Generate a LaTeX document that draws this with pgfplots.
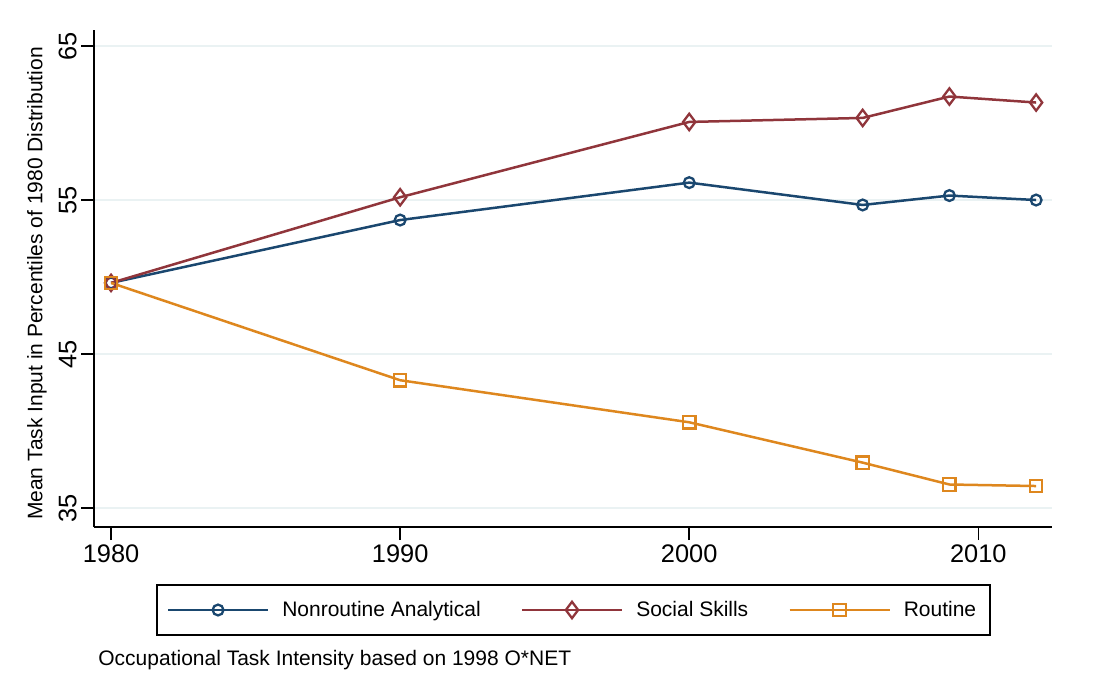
\documentclass[border=0pt]{standalone}
\usepackage{pgfplots}
\pgfplotsset{compat=1.18}
\usepackage{fontspec}
\setmainfont{Liberation Sans}
\definecolor{cnavy}{RGB}{26,71,111}
\definecolor{cmaroon}{RGB}{144,53,59}
\definecolor{corange}{RGB}{222,135,30}
\definecolor{cgrid}{RGB}{234,242,243}
\begin{document}
\begin{tikzpicture}
\path[use as bounding box] (-47pt,-84.5pt) rectangle (506pt,263.5pt);
\begin{axis}[
  scale only axis,
  width=479pt, height=248.5pt,
  xmin=1979.41, xmax=2012.55,
  ymin=33.77, ymax=66.04,
  axis x line*=bottom, axis y line*=left,
  axis line style={line width=1pt,-},
  xtick={1980,1990,2000,2010},
  ytick={35,45,55,65},
  xticklabels={1980,1990,2000,2010},
  yticklabels={35,45,55,65},
  tick align=outside, tick pos=left,
  major tick length=6.5pt,
  tick style={line width=0.8pt,black},
  ymajorgrids,
  major grid style={line width=0.8pt,cgrid},
  tick label style={font=\fontsize{12.7}{14}\selectfont},
  yticklabel style={rotate=90,anchor=south,inner sep=2pt},
  xticklabel style={anchor=north,inner sep=2pt},
  ylabel={Mean Task Input in Percentiles of 1980 Distribution},
  ylabel style={font=\fontsize{10.5}{12}\selectfont, at={(axis description cs:-0.0595,0.49)}, anchor=center},
  legend columns=3,
  legend style={at={(axis description cs:0.5005,-0.167)}, anchor=center,
    draw=black, line width=0.75pt, font=\fontsize{10.5}{12}\selectfont,
    inner xsep=5pt, inner ysep=6pt,
    nodes={inner sep=2pt},
    /tikz/every odd column/.append style={column sep=4.5pt},
    /tikz/every even column/.append style={column sep=18pt},
    cells={anchor=west}},
  legend image code/.code={
    \draw[mark repeat=2,mark phase=2,#1] plot coordinates {(0pt,0pt) (25pt,0pt) (50pt,0pt)};
  },
]
\addplot[color=cnavy, line width=1.25pt, mark=o, mark size=2.7pt, mark options={fill=white, line width=1.15pt}]
  coordinates {(1980,49.62) (1990,53.7) (2000,56.13) (2006,54.68) (2009,55.29) (2012,55.0)};
\addlegendentry{Nonroutine Analytical}
\addplot[color=cmaroon, line width=1.25pt, mark=diamond, mark size=4.1pt, mark options={fill=white, line width=1.15pt}]
  coordinates {(1980,49.62) (1990,55.18) (2000,60.07) (2006,60.33) (2009,61.72) (2012,61.33)};
\addlegendentry{Social Skills}
\addplot[color=corange, line width=1.25pt, mark=square, mark size=3.1pt, mark options={fill=white, line width=1.15pt}]
  coordinates {(1980,49.62) (1990,43.3) (2000,40.57) (2006,37.95) (2009,36.53) (2012,36.43)};
\addlegendentry{Routine}
\end{axis}
\node[anchor=west, font=\fontsize{10.5}{12}\selectfont, inner sep=0pt] at (2pt,-66.5pt) {Occupational Task Intensity based on 1998 O*NET};
\end{tikzpicture}
\end{document}
